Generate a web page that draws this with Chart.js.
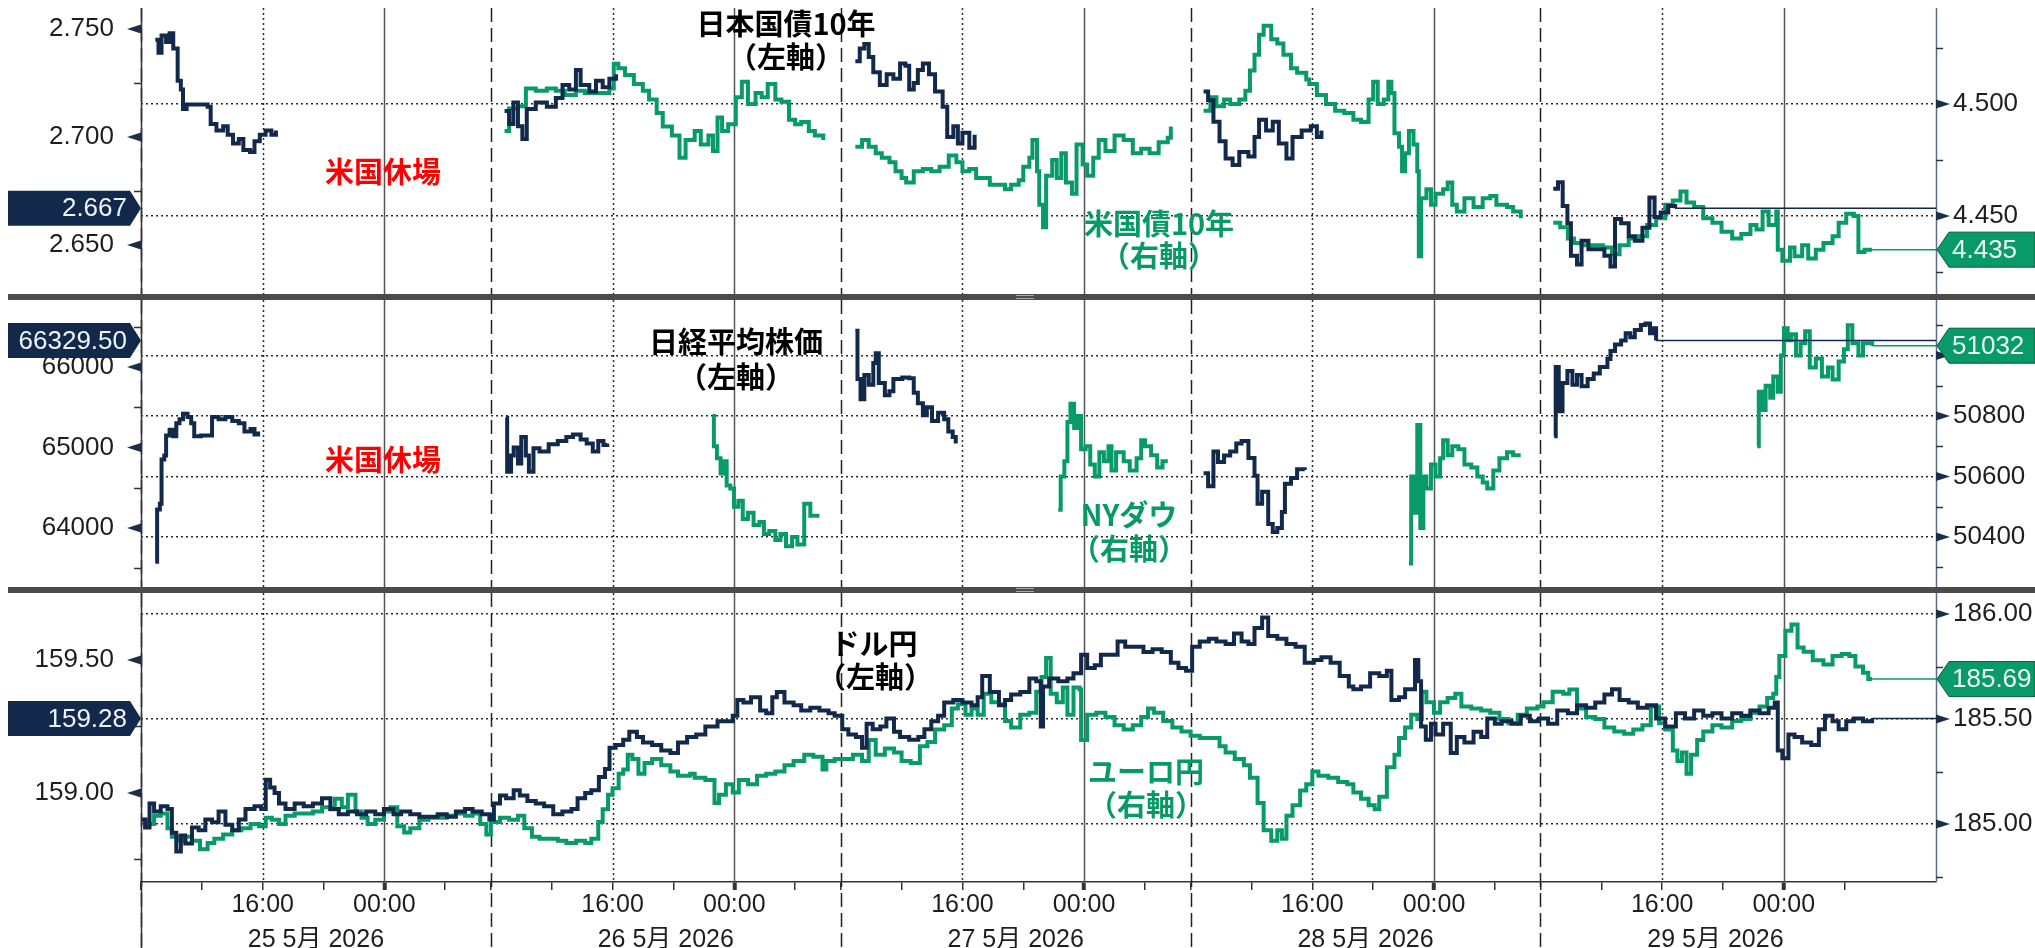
<!DOCTYPE html>
<html lang="ja">
<head>
<meta charset="utf-8">
<title>日本国債・日経平均・ドル円</title>
<script src="https://cdn.jsdelivr.net/npm/chart.js@4.4.1/dist/chart.umd.min.js"></script>
<style>
  html, body { margin: 0; padding: 0; background: #fff; }
  #wrap { position: relative; width: 2035px; height: 948px; overflow: hidden; background: #fff; }
  canvas { position: absolute; left: 0; }
  .sep { position: absolute; left: 8px; width: 2027px; height: 6px; background: #4b4b4b; z-index: 5; }
  .grip { position: absolute; left: 1016px; width: 18px; height: 2px; border-top: 1px solid #a8a8a8; border-bottom: 1px solid #a8a8a8; z-index: 6; }
  .note { position: absolute; transform: translate(-50%, -50%); font: bold 29px 'Noto Sans CJK JP', sans-serif; white-space: nowrap; line-height: 1; z-index: 4; }
</style>
</head>
<body>
<div id="wrap">
  <canvas id="c1" width="2035" height="296" style="top:0px"></canvas>
  <canvas id="c2" width="2035" height="293" style="top:296px"></canvas>
  <canvas id="c3" width="2035" height="359" style="top:589px"></canvas>

  <div class="sep" style="top:294px"></div><div class="grip" style="top:295px"></div>
  <div class="sep" style="top:587px"></div><div class="grip" style="top:588px"></div>

  <div class="note" style="left:786px;top:22px;color:#000">日本国債10年</div>
  <div class="note" style="left:786px;top:55px;color:#000">（左軸）</div>
  <div class="note" style="left:383px;top:170px;color:#ff0000">米国休場</div>
  <div class="note" style="left:1159px;top:222px;color:#079a65">米国債10年</div>
  <div class="note" style="left:1159px;top:254px;color:#079a65">（右軸）</div>

  <div class="note" style="left:736px;top:340px;color:#000">日経平均株価</div>
  <div class="note" style="left:736px;top:375px;color:#000">（左軸）</div>
  <div class="note" style="left:383px;top:458px;color:#ff0000">米国休場</div>
  <div class="note" style="left:1129px;top:513px;color:#079a65">NYダウ</div>
  <div class="note" style="left:1129px;top:547px;color:#079a65">（右軸）</div>

  <div class="note" style="left:874px;top:642px;color:#000">ドル円</div>
  <div class="note" style="left:875px;top:675px;color:#000">（左軸）</div>
  <div class="note" style="left:1146px;top:770px;color:#079a65">ユーロ円</div>
  <div class="note" style="left:1146px;top:803px;color:#079a65">（右軸）</div>
</div>

<script>
// 時間軸: 各日 08:00 を起点に 23 時間 (07:00-08:00 は詰めて表示)
const dayLabels = ['25 5月 2026', '26 5月 2026', '27 5月 2026', '28 5月 2026', '29 5月 2026'];
const dayStart = [0, 23, 46, 69, 92];
const hourLabels = { 8: '16:00', 16: '00:00' };

// 日本国債10年 [時間, 利回り]
const jgb10 = [
  [0.94,2.745],[1.15,2.739],[1.35,2.747],[1.65,2.744],[1.88,2.748],[2.12,2.741],[2.41,2.726],[2.62,2.722],[2.76,2.713],
  [3.0,2.715],[3.6,2.715],[4.38,2.714],[4.58,2.706],[4.96,2.703],[5.4,2.705],[5.7,2.701],[6.05,2.697],[6.43,2.699],
  [6.73,2.694],[7.17,2.693],[7.46,2.698],[7.81,2.701],[8.19,2.703],[8.57,2.701],[8.87,2.703],[9.0,null],
  [23.9,2.712],[24.2,2.706],[24.48,2.716],[24.78,2.705],[25.07,2.699],[25.36,2.713],[25.95,2.716],[26.68,2.714],
  [27.27,2.718],[27.71,2.724],[28.15,2.722],[28.59,2.731],[28.9,2.724],[29.47,2.721],[29.91,2.726],[30.35,2.723],
  [30.79,2.727],[31.23,2.729],[31.4,null],
  [46.96,2.735],[47.25,2.741],[47.55,2.743],[47.84,2.737],[48.14,2.730],[48.57,2.724],[49.02,2.729],[49.46,2.727],
  [49.9,2.734],[50.25,2.733],[50.5,2.722],[50.8,2.725],[51.07,2.731],[51.4,2.734],[51.8,2.729],[52.2,2.721],
  [52.7,2.714],[53.0,2.700],[53.4,2.705],[53.7,2.697],[54.0,2.702],[54.45,2.695],[54.8,2.701],[55.0,null],
  [69.85,2.721],[70.15,2.717],[70.5,2.707],[70.9,2.698],[71.3,2.690],[71.76,2.687],[72.2,2.693],[72.8,2.691],
  [73.2,2.700],[73.5,2.708],[73.96,2.703],[74.4,2.707],[74.8,2.697],[75.3,2.690],[75.7,2.700],[76.3,2.703],
  [76.9,2.705],[77.3,2.700],[77.6,2.703],[77.8,null],
  [92.84,2.676],[93.15,2.679],[93.46,2.668],[93.77,2.660],[94.0,2.645],[94.4,2.641],[94.7,2.652],[95.15,2.648],
  [95.77,2.648],[96.2,2.645],[96.6,2.640],[96.9,2.662],[97.3,2.660],[97.8,2.654],[98.2,2.652],[98.7,2.658],
  [99.16,2.672],[99.5,2.663],[99.9,2.665],[100.4,2.668],[100.85,2.667]
];

// 米国債10年 [時間, 利回り]
const ust10 = [
  [23.9,4.488],[24.2,4.498],[24.78,4.499],[25.3,4.507],[25.95,4.506],[26.68,4.507],[27.27,4.506],[27.86,4.504],
  [28.59,4.506],[29.18,4.505],[30.06,4.505],[30.79,4.507],[31.08,4.518],[31.38,4.516],[31.82,4.513],[32.4,4.509],
  [32.99,4.506],[33.4,4.502],[33.9,4.496],[34.3,4.490],[34.9,4.486],[35.4,4.476],[35.8,4.484],[36.4,4.488],
  [36.8,4.482],[37.3,4.486],[37.6,4.479],[37.9,4.494],[38.2,4.488],[38.6,4.491],[39.1,4.503],[39.5,4.510],
  [39.9,4.500],[40.4,4.505],[40.8,4.503],[41.2,4.509],[41.7,4.502],[42.1,4.501],[42.6,4.493],[43.0,4.491],
  [43.4,4.492],[43.9,4.488],[44.3,4.486],[44.85,4.484],[45.0,null],
  [46.96,4.481],[47.4,4.484],[47.84,4.481],[48.3,4.478],[48.7,4.476],[49.2,4.474],[49.6,4.470],[50.0,4.467],
  [50.3,4.465],[50.8,4.470],[51.4,4.471],[51.95,4.470],[52.5,4.472],[53.1,4.477],[53.6,4.474],[54.0,4.470],
  [54.45,4.471],[54.9,4.467],[55.3,4.467],[55.8,4.464],[56.4,4.464],[56.8,4.462],[57.2,4.464],[57.7,4.466],
  [58.0,4.472],[58.4,4.476],[58.6,4.484],[58.9,4.470],[59.05,4.455],[59.3,4.445],[59.5,4.468],[59.9,4.475],
  [60.2,4.467],[60.5,4.478],[60.8,4.465],[61.2,4.460],[61.5,4.482],[61.9,4.473],[62.2,4.468],[62.6,4.476],
  [62.96,4.484],[63.4,4.479],[64.0,4.486],[64.6,4.484],[65.2,4.478],[65.75,4.480],[66.3,4.478],[66.9,4.483],
  [67.5,4.485],[67.7,4.490],[68.0,null],
  [69.85,4.497],[70.3,4.503],[70.7,4.499],[71.2,4.502],[71.6,4.500],[72.2,4.502],[72.6,4.506],[72.9,4.515],
  [73.2,4.522],[73.5,4.531],[73.8,4.535],[74.3,4.529],[74.7,4.527],[75.1,4.522],[75.6,4.516],[76.0,4.514],
  [76.6,4.511],[76.8,4.509],[77.3,4.504],[77.9,4.500],[78.5,4.497],[79.1,4.496],[79.7,4.493],[80.2,4.492],
  [80.7,4.502],[81.0,4.510],[81.3,4.500],[81.7,4.502],[82.0,4.510],[82.2,4.505],[82.4,4.487],[82.7,4.481],
  [82.9,4.470],[83.1,4.478],[83.35,4.488],[83.65,4.482],[83.9,4.470],[84.0,4.432],[84.15,4.458],[84.5,4.462],
  [84.8,4.455],[85.1,4.460],[85.6,4.462],[85.9,4.465],[86.2,4.455],[86.5,4.452],[87.0,4.458],[87.6,4.454],
  [88.2,4.458],[88.7,4.459],[89.1,4.455],[89.8,4.454],[90.2,4.452],[90.7,4.449],[91.0,null],
  [92.84,4.447],[93.3,4.445],[93.8,4.440],[94.2,4.438],[94.7,4.437],[95.3,4.437],[96.1,4.436],[96.7,4.433],
  [97.2,4.437],[97.8,4.440],[98.4,4.441],[99.0,4.446],[99.6,4.449],[100.2,4.455],[100.7,4.457],[101.2,4.461],
  [101.6,4.456],[102.1,4.454],[102.7,4.449],[103.3,4.447],[103.9,4.443],[104.6,4.440],[105.2,4.442],[105.8,4.446],
  [106.2,4.444],[106.6,4.452],[107.0,4.446],[107.5,4.452],[107.6,4.435],[107.9,4.430],[108.4,4.436],[108.7,4.432],
  [109.2,4.437],[109.6,4.431],[110.1,4.435],[110.6,4.438],[111.2,4.441],[111.6,4.447],[112.1,4.451],[112.6,4.450],
  [112.9,4.434],[113.3,4.435],[113.8,4.435]
];

// 日経平均株価 [時間, 円]
const nikkei = [
  [0.94,63580],[1.06,64230],[1.24,64300],[1.35,64850],[1.53,64900],[1.65,65150],[1.88,65220],[2.12,65140],
  [2.32,65300],[2.53,65350],[2.76,65420],[3.06,65380],[3.3,65300],[3.5,65140],[3.94,65150],[4.47,65150],
  [4.67,65380],[5.1,65350],[5.55,65380],[6.0,65330],[6.43,65300],[6.8,65200],[7.2,65230],[7.46,65160],
  [7.7,65200],[7.9,null],
  [23.98,65370],[24.07,64700],[24.33,64900],[24.5,65000],[24.78,64800],[25.0,65130],[25.3,64900],[25.5,64700],
  [25.8,64990],[26.2,64950],[26.8,65040],[27.4,65080],[27.96,65130],[28.4,65160],[28.9,65100],[29.3,65050],
  [29.7,64950],[30.06,65080],[30.4,65030],[30.65,65050],[30.8,null],
  [46.96,66450],[47.1,65850],[47.3,65600],[47.55,65900],[47.84,65780],[48.14,66050],[48.3,66170],[48.5,65800],
  [48.9,65650],[49.2,65700],[49.46,65850],[50.05,65870],[50.5,65860],[50.8,65680],[51.07,65550],[51.4,65400],
  [51.66,65500],[52.0,65330],[52.4,65430],[52.8,65350],[53.07,65200],[53.36,65130],[53.56,65050],[53.7,null],
  [69.85,64680],[70.15,64520],[70.5,64950],[70.8,64820],[71.2,64900],[71.6,64950],[72.0,65050],[72.35,65080],
  [72.8,64870],[73.2,64650],[73.4,64300],[73.7,64450],[74.1,64050],[74.4,63950],[74.7,64000],[75.0,64200],
  [75.2,64550],[75.6,64620],[76.0,64730],[76.5,64720],[76.7,null],
  [92.9,65140],[93.0,66000],[93.2,65450],[93.45,65800],[93.77,65950],[94.1,65780],[94.4,65900],[94.7,65760],
  [95.1,65850],[95.5,65920],[95.9,66000],[96.4,66100],[96.6,66200],[96.9,66280],[97.3,66330],[97.6,66420],
  [97.9,66370],[98.2,66460],[98.6,66520],[98.9,66540],[99.2,66420],[99.4,66480],[99.6,66329.5]
];

// NYダウ [時間, ドル]
const nyDow = [
  [37.57,50800],[37.66,50700],[37.86,50660],[38.1,50610],[38.3,50650],[38.5,50570],[38.74,50560],[38.98,50500],
  [39.27,50520],[39.56,50460],[39.9,50480],[40.27,50440],[40.65,50450],[40.95,50410],[41.3,50420],[41.7,50390],
  [42.03,50410],[42.4,50370],[42.8,50400],[43.15,50375],[43.6,50510],[44.0,50470],[44.6,50470],[44.8,null],
  [60.3,50490],[60.46,50600],[60.7,50650],[60.9,50780],[61.1,50840],[61.34,50760],[61.6,50800],[61.8,50690],
  [62.1,50700],[62.4,50640],[62.7,50600],[63.0,50680],[63.3,50650],[63.6,50700],[63.8,50620],[64.1,50680],
  [64.6,50650],[65.0,50620],[65.45,50660],[65.75,50720],[66.0,50700],[66.4,50670],[66.8,50630],[67.15,50650],
  [67.5,50650],[67.7,null],
  [83.35,50313],[83.5,50600],[83.7,50480],[83.9,50770],[84.1,50430],[84.3,50600],[84.5,50560],[84.8,50640],
  [85.1,50600],[85.4,50660],[85.6,50720],[85.9,50670],[86.2,50700],[86.6,50690],[87.0,50640],[87.45,50630],
  [87.85,50600],[88.2,50580],[88.5,50560],[88.9,50620],[89.3,50660],[89.8,50680],[90.2,50670],[90.7,50670],[90.9,null],
  [106.25,50700],[106.35,50880],[106.56,50820],[106.8,50900],[107.1,50860],[107.3,50930],[107.6,50880],[107.8,51000],
  [108.0,51090],[108.25,51050],[108.5,51070],[108.8,51000],[109.1,51040],[109.4,51080],[109.7,50960],[110.1,50990],
  [110.5,50930],[110.9,50960],[111.2,50920],[111.6,50980],[111.95,51020],[112.2,51100],[112.5,51040],[112.9,51000],
  [113.2,51040],[113.8,51032]
];

// ドル円 [時間, 円]
const usdJpy = [
  [0.06,158.90],[0.27,158.87],[0.56,158.96],[0.86,158.93],[1.3,158.95],[1.74,158.94],[2.03,158.85],[2.32,158.78],
  [2.62,158.84],[2.91,158.81],[3.35,158.87],[3.79,158.86],[4.23,158.90],[4.67,158.89],[5.1,158.93],[5.55,158.88],
  [6.0,158.86],[6.43,158.90],[6.87,158.94],[7.46,158.95],[7.9,158.94],[8.2,159.05],[8.49,159.02],[8.78,159.00],
  [9.07,158.96],[9.5,158.94],[10.1,158.96],[10.7,158.95],[11.3,158.96],[11.9,158.98],[12.45,158.94],[13.0,158.92],
  [13.6,158.93],[14.2,158.92],[14.8,158.93],[15.4,158.92],[15.97,158.94],[16.6,158.92],[17.1,158.93],[17.7,158.92],
  [18.3,158.91],[18.9,158.91],[19.5,158.92],[20.1,158.91],[20.7,158.93],[21.3,158.94],[21.8,158.93],[22.4,158.92],
  [22.9,158.90],[23.2,158.96],[23.6,158.99],[24.0,158.98],[24.5,159.01],[24.9,158.99],[25.4,158.97],[25.95,158.96],
  [26.5,158.95],[27.1,158.92],[27.7,158.93],[28.3,158.94],[28.7,158.98],[29.2,159.00],[29.6,159.01],[30.1,159.06],
  [30.5,159.09],[30.8,159.17],[31.2,159.18],[31.7,159.20],[32.1,159.23],[32.6,159.21],[33.0,159.19],[33.6,159.18],
  [34.2,159.16],[34.8,159.15],[35.3,159.19],[35.9,159.21],[36.5,159.22],[37.1,159.25],[37.9,159.27],[38.45,159.27],
  [38.9,159.29],[39.2,159.35],[39.6,159.34],[40.1,159.36],[40.7,159.31],[41.1,159.30],[41.5,159.36],[41.8,159.38],
  [42.3,159.34],[42.9,159.33],[43.4,159.31],[44.0,159.32],[44.6,159.31],[45.2,159.30],[45.6,159.29],[46.1,159.24],
  [46.5,159.22],[47.0,159.21],[47.4,159.17],[47.7,159.26],[48.1,159.24],[48.6,159.25],[49.0,159.28],[49.5,159.23],
  [49.9,159.21],[50.5,159.20],[51.1,159.21],[51.5,159.24],[51.95,159.27],[52.4,159.29],[52.8,159.34],[53.4,159.35],
  [54.0,159.34],[54.6,159.33],[55.0,159.36],[55.3,159.44],[55.8,159.38],[56.4,159.33],[56.8,159.35],[57.2,159.37],
  [57.8,159.38],[58.4,159.43],[58.85,159.42],[59.15,159.25],[59.3,159.40],[59.7,159.43],[60.3,159.42],[60.9,159.43],
  [61.3,159.45],[61.8,159.52],[62.2,159.47],[62.7,159.48],[63.1,159.52],[63.7,159.52],[64.2,159.57],[64.7,159.55],
  [65.3,159.55],[65.9,159.53],[66.5,159.54],[67.1,159.53],[67.7,159.49],[68.2,159.47],[68.7,159.46],[69.1,159.55],
  [69.6,159.57],[70.2,159.58],[70.7,159.57],[71.3,159.56],[71.85,159.60],[72.35,159.57],[72.8,159.56],[73.2,159.62],
  [73.7,159.66],[74.1,159.59],[74.7,159.58],[75.3,159.56],[75.9,159.55],[76.5,159.49],[77.1,159.50],[77.6,159.51],
  [78.2,159.49],[78.8,159.44],[79.4,159.40],[79.7,159.39],[80.2,159.40],[80.8,159.45],[81.4,159.44],[81.9,159.46],
  [82.2,159.35],[82.7,159.36],[83.1,159.39],[83.75,159.50],[83.97,159.42],[84.15,159.25],[84.46,159.20],[84.8,159.26],
  [85.1,159.22],[85.6,159.26],[86.1,159.15],[86.5,159.21],[87.0,159.19],[87.6,159.23],[88.1,159.21],[88.5,159.28],
  [89.0,159.26],[89.45,159.27],[90.1,159.26],[90.7,159.29],[91.3,159.27],[91.9,159.28],[92.5,159.26],[93.1,159.31],
  [93.8,159.30],[94.4,159.33],[95.0,159.32],[95.6,159.34],[96.2,159.37],[96.7,159.39],[97.2,159.35],[97.8,159.34],
  [98.4,159.32],[99.0,159.33],[99.6,159.28],[100.2,159.25],[100.9,159.30],[101.5,159.28],[102.1,159.31],[102.7,159.29],
  [103.3,159.30],[103.9,159.28],[104.6,159.30],[105.2,159.29],[105.8,159.31],[106.4,159.30],[107.0,159.32],[107.4,159.34],
  [107.6,159.16],[107.9,159.13],[108.3,159.22],[108.7,159.21],[109.2,159.19],[109.8,159.18],[110.3,159.24],[110.7,159.29],
  [111.2,159.27],[111.6,159.24],[112.1,159.27],[112.6,159.28],[113.2,159.27],[113.8,159.28]
];

// ユーロ円 [時間, 円]
const eurJpy = [
  [0.06,185.02],[0.4,185.00],[0.86,185.04],[1.3,185.05],[1.74,184.98],[2.03,184.94],[2.47,184.92],[2.91,184.94],
  [3.35,184.92],[3.88,184.88],[4.38,184.91],[4.82,184.93],[5.4,184.95],[6.0,184.97],[6.6,184.98],[7.2,185.00],
  [7.75,184.99],[8.2,185.03],[8.6,185.02],[9.07,185.00],[9.5,185.04],[10.1,185.05],[10.7,185.05],[11.3,185.06],
  [11.9,185.08],[12.45,185.07],[12.74,185.12],[13.2,185.08],[13.6,185.14],[14.1,185.06],[14.5,185.03],[14.9,185.00],
  [15.4,185.02],[15.97,185.06],[16.4,185.08],[16.85,184.99],[17.3,184.96],[17.7,184.98],[18.3,185.02],[18.9,185.03],
  [19.5,185.03],[20.1,185.04],[20.7,185.05],[21.3,185.04],[21.8,185.05],[22.3,185.00],[22.7,184.95],[23.0,185.01],
  [23.6,185.03],[24.2,185.02],[24.78,185.04],[25.2,184.98],[25.7,184.94],[26.2,184.93],[26.8,184.93],[27.4,184.92],
  [27.96,184.91],[28.6,184.92],[29.2,184.91],[29.6,184.93],[30.06,185.01],[30.35,185.07],[30.7,185.14],[31.0,185.17],
  [31.4,185.24],[31.7,185.26],[32.0,185.33],[32.3,185.31],[32.7,185.24],[33.1,185.29],[33.6,185.31],[34.2,185.28],
  [34.8,185.25],[35.3,185.23],[36.1,185.24],[36.4,185.22],[37.1,185.21],[37.7,185.10],[38.0,185.14],[38.45,185.19],
  [38.9,185.15],[39.3,185.21],[39.9,185.19],[40.5,185.23],[41.1,185.24],[41.7,185.25],[42.3,185.28],[42.9,185.30],
  [43.6,185.33],[44.2,185.32],[44.8,185.26],[45.05,185.30],[45.6,185.31],[46.2,185.31],[46.8,185.33],[47.4,185.30],
  [47.84,185.40],[48.3,185.33],[48.9,185.36],[49.5,185.34],[50.0,185.30],[50.6,185.29],[51.2,185.37],[51.7,185.39],
  [52.2,185.45],[52.8,185.47],[53.3,185.55],[53.7,185.57],[54.2,185.52],[54.6,185.55],[55.0,185.52],[55.4,185.62],
  [55.9,185.58],[56.4,185.57],[56.8,185.49],[57.2,185.46],[57.8,185.52],[58.4,185.53],[58.85,185.63],[59.2,185.70],
  [59.5,185.79],[59.8,185.62],[60.2,185.58],[60.6,185.65],[60.9,185.52],[61.3,185.65],[61.7,185.64],[61.8,185.40],
  [62.2,185.52],[62.8,185.53],[63.4,185.51],[64.0,185.47],[64.6,185.45],[65.2,185.47],[65.75,185.51],[66.2,185.55],
  [66.6,185.53],[67.2,185.49],[67.8,185.46],[68.4,185.44],[69.0,185.42],[69.6,185.41],[70.3,185.41],[70.9,185.37],
  [71.3,185.34],[71.9,185.31],[72.5,185.28],[72.9,185.22],[73.4,185.10],[73.8,184.97],[74.3,184.92],[74.7,184.97],
  [75.0,184.93],[75.3,185.04],[75.7,185.09],[76.2,185.16],[76.6,185.19],[77.0,185.25],[77.4,185.23],[78.05,185.22],
  [78.7,185.20],[79.3,185.19],[79.7,185.15],[80.2,185.12],[80.7,185.09],[81.1,185.07],[81.4,185.13],[81.9,185.27],
  [82.4,185.33],[82.7,185.41],[83.1,185.46],[83.5,185.52],[83.9,185.50],[84.2,185.63],[84.5,185.58],[85.0,185.53],
  [85.4,185.58],[85.9,185.60],[86.4,185.62],[86.8,185.56],[87.45,185.55],[88.1,185.54],[88.7,185.53],[89.3,185.50],
  [89.9,185.48],[90.5,185.52],[91.1,185.55],[91.8,185.56],[92.2,185.58],[92.8,185.63],[93.5,185.62],[93.9,185.64],
  [94.4,185.55],[95.0,185.51],[95.6,185.50],[96.2,185.46],[96.85,185.44],[97.5,185.43],[98.1,185.45],[98.7,185.47],
  [99.25,185.56],[99.8,185.48],[100.2,185.45],[100.7,185.35],[101.0,185.30],[101.3,185.34],[101.6,185.24],[101.9,185.33],
  [102.3,185.40],[102.7,185.44],[103.3,185.47],[103.9,185.46],[104.6,185.49],[105.2,185.50],[105.8,185.53],[106.4,185.56],
  [106.9,185.60],[107.3,185.62],[107.5,185.70],[107.7,185.80],[108.1,185.92],[108.5,185.95],[108.9,185.84],[109.3,185.82],
  [109.9,185.78],[110.6,185.76],[111.2,185.80],[111.8,185.81],[112.3,185.80],[112.7,185.75],[113.2,185.72],[113.55,185.69],
  [113.8,185.69]
];

// 目盛り
const jgbTicks = [2.65, 2.70, 2.75], jgbMinor = [2.675, 2.725];
const ustTicks = [4.45, 4.50], ustMinor = [4.425, 4.475, 4.525];
const nikkeiTicks = [64000, 65000, 66000], nikkeiMinor = [63500, 64500, 65500, 66500];
const dowTicks = [50400, 50600, 50800, 51000], dowMinor = [50300, 50500, 50700, 50900, 51100];
const usdTicks = [159.00, 159.50], usdMinor = [158.75, 159.25];
const eurTicks = [185.00, 185.50, 186.00], eurMinor = [184.75, 185.25, 185.75];

const FONT = "'Liberation Sans', Arial, sans-serif";
const NAVY = '#13294b';
const GREEN = '#089b69';

function toPoints(arr) {
  return arr.map(p => ({ x: p[0], y: p[1] }));
}
function lastPoint(arr) {
  for (let i = arr.length - 1; i >= 0; i--) if (arr[i][1] != null) return arr[i];
}
function line(ctx, x1, y1, x2, y2, color, dash, w) {
  ctx.beginPath();
  ctx.strokeStyle = color;
  ctx.lineWidth = w || 1.5;
  ctx.setLineDash(dash);
  ctx.moveTo(x1, y1);
  ctx.lineTo(x2, y2);
  ctx.stroke();
}
// 軸ラベルがチャート領域を縮めないようにする
function noPad(sc) {
  sc.paddingTop = 0; sc.paddingBottom = 0; sc.paddingLeft = 0; sc.paddingRight = 0;
}

// 縦のグリッド、軸の目印、最新値ラベル
function makeDeco(p) {
  return {
    id: 'deco',
    beforeDatasetsDraw(chart) {
      const { ctx, chartArea: a, scales: { x } } = chart;
      const yEnd = p.xAxis ? chart.height : a.bottom;
      ctx.save();
      dayStart.forEach(d => {
        let px = Math.round(x.getPixelForValue(d + 8)) + 0.5;
        line(ctx, px, a.top, px, a.bottom, '#2a2a2a', [2, 3]);
        px = Math.round(x.getPixelForValue(d + 16)) + 0.5;
        line(ctx, px, a.top, px, a.bottom, '#555', []);
        px = Math.round(x.getPixelForValue(d)) + 0.5;
        line(ctx, px, a.top, px, yEnd, '#222', [14, 6]);
      });
      ctx.restore();
    },
    afterDraw(chart) {
      const { ctx, chartArea: a, scales: { x, y, y2 } } = chart;
      const yEnd = p.xAxis ? chart.height : a.bottom;
      ctx.save();
      line(ctx, a.left + 0.5, a.top, a.left + 0.5, yEnd, '#333', [], 1.5);
      line(ctx, a.right + 0.5, a.top, a.right + 0.5, a.bottom, '#5d6c80', [], 1.5);

      ctx.fillStyle = '#1d2d48';
      p.left.ticks.forEach(v => {
        const py = y.getPixelForValue(v);
        ctx.beginPath();
        ctx.moveTo(a.left, py - 4.5); ctx.lineTo(a.left, py + 4.5); ctx.lineTo(a.left - 14, py);
        ctx.closePath(); ctx.fill();
      });
      p.right.ticks.forEach(v => {
        const py = y2.getPixelForValue(v);
        ctx.beginPath();
        ctx.moveTo(a.right, py - 4.5); ctx.lineTo(a.right, py + 4.5); ctx.lineTo(a.right + 14, py);
        ctx.closePath(); ctx.fill();
      });
      p.left.minor.forEach(v => {
        const py = Math.round(y.getPixelForValue(v)) + 0.5;
        line(ctx, a.left - 7, py, a.left, py, '#333', [], 1.5);
      });
      p.right.minor.forEach(v => {
        const py = Math.round(y2.getPixelForValue(v)) + 0.5;
        line(ctx, a.right, py, a.right + 7, py, '#333', [], 1.5);
      });

      // 最新値の水平線
      const lp = lastPoint(p.left.data), rp = lastPoint(p.right.data);
      const ly = y.getPixelForValue(lp[1]), ry = y2.getPixelForValue(rp[1]);
      line(ctx, x.getPixelForValue(lp[0]), ly, a.right, ly, NAVY, [], 1.5);
      line(ctx, x.getPixelForValue(rp[0]), ry, a.right, ry, GREEN, [], 1.5);

      // 左ラベル
      ctx.setLineDash([]);
      ctx.beginPath();
      ctx.moveTo(8, ly - 17.5); ctx.lineTo(130, ly - 17.5); ctx.lineTo(a.left, ly);
      ctx.lineTo(130, ly + 17.5); ctx.lineTo(8, ly + 17.5); ctx.closePath();
      ctx.fillStyle = NAVY; ctx.fill();
      ctx.fillStyle = '#eef2f7';
      ctx.font = '26px ' + FONT;
      ctx.textAlign = 'right'; ctx.textBaseline = 'middle';
      ctx.fillText(lp[1].toFixed(p.left.boxDigits), 127, ly + 1);

      // 右ラベル
      ctx.beginPath();
      ctx.moveTo(a.right + 1, ry); ctx.lineTo(a.right + 13, ry - 17.5); ctx.lineTo(chart.width, ry - 17.5);
      ctx.lineTo(chart.width, ry + 17.5); ctx.lineTo(a.right + 13, ry + 17.5); ctx.closePath();
      ctx.fillStyle = GREEN; ctx.fill();
      ctx.strokeStyle = '#06583c'; ctx.lineWidth = 1; ctx.stroke();
      ctx.fillStyle = '#eef7f2';
      ctx.textAlign = 'left';
      ctx.fillText(rp[1].toFixed(p.right.boxDigits), a.right + 16, ry + 1);
      ctx.restore();
    }
  };
}

function yScale(side, s) {
  return {
    type: 'linear', position: side, min: s.min, max: s.max,
    afterFit: sc => { sc.width = side === 'left' ? 141 : 99; noPad(sc); },
    afterBuildTicks: sc => { sc.ticks = s.ticks.map(v => ({ value: v })); },
    ticks: {
      padding: side === 'left' ? 19 : 17,
      font: { family: FONT, size: 26 }, color: '#1e1e1e',
      callback: v => v.toFixed(s.digits)
    },
    grid: side === 'left'
      ? { display: false }
      : { display: true, drawOnChartArea: true, drawTicks: false, color: '#2b2b2b', lineWidth: 1.5 },
    border: { display: false, dash: [2, 3] }
  };
}

function makePanel(p) {
  const scales = {
    x: {
      type: 'linear', position: 'bottom', min: 0, max: 118, display: p.xAxis,
      afterBuildTicks: sc => {
        const t = [];
        dayStart.forEach(d => { for (let o = 0; o < 23; o += 4) t.push({ value: d + o }); });
        sc.ticks = t;
      },
      afterFit: sc => { sc.height = p.xAxis ? 34 : 0; noPad(sc); },
      ticks: {
        autoSkip: false, maxRotation: 0, minRotation: 0, padding: 0,
        font: { family: FONT, size: 25 }, color: '#1e1e1e',
        callback: v => hourLabels[v % 23] || ''
      },
      grid: {
        drawOnChartArea: false, drawTicks: true, tickLength: 8, color: '#333', lineWidth: 1.5,
        tickWidth: c => (c.tick && c.tick.value % 23 === 16) ? 4 : 1.5
      },
      border: { display: true, color: '#333', width: 1.5 }
    },
    x2: {
      type: 'linear', position: 'bottom', min: 0, max: 118, display: p.xAxis,
      afterBuildTicks: sc => { sc.ticks = dayStart.map(d => ({ value: d + 11.5 })); },
      afterFit: sc => { sc.height = p.xAxis ? 32 : 0; noPad(sc); },
      ticks: {
        autoSkip: false, maxRotation: 0, minRotation: 0, padding: 1,
        font: { family: "'Liberation Sans', 'Noto Sans CJK JP', sans-serif", size: 25 }, color: '#1e1e1e',
        callback: (v, i) => dayLabels[i]
      },
      grid: { display: false },
      border: { display: false }
    },
    y: yScale('left', p.left),
    y2: yScale('right', p.right)
  };

  return new Chart(document.getElementById(p.id), {
    type: 'line',
    data: {
      datasets: [
        { label: p.left.name, data: toPoints(p.left.data), yAxisID: 'y', borderColor: NAVY },
        { label: p.right.name, data: toPoints(p.right.data), yAxisID: 'y2', borderColor: GREEN }
      ]
    },
    options: {
      responsive: false, animation: false, devicePixelRatio: 1,
      layout: { padding: { top: p.padTop, bottom: p.padBottom, left: 0, right: 0 } },
      elements: {
        point: { radius: 0 },
        line: { borderWidth: 4, stepped: true, tension: 0, borderJoinStyle: 'miter', borderCapStyle: 'butt' }
      },
      plugins: { legend: { display: false }, tooltip: { enabled: false } },
      scales
    },
    plugins: [makeDeco(p)]
  });
}

makePanel({
  id: 'c1', padTop: 8, padBottom: 2, xAxis: false,
  left: { name: '日本国債10年', data: jgb10, min: 2.6273, max: 2.7597, ticks: jgbTicks, minor: jgbMinor, digits: 3, boxDigits: 3 },
  right: { name: '米国債10年', data: ust10, min: 4.4152, max: 4.5429, ticks: ustTicks, minor: ustMinor, digits: 3, boxDigits: 3 }
});
makePanel({
  id: 'c2', padTop: 4, padBottom: 2, xAxis: false,
  left: { name: '日経平均株価', data: nikkei, min: 63267, max: 66832, ticks: nikkeiTicks, minor: nikkeiMinor, digits: 0, boxDigits: 2 },
  right: { name: 'NYダウ', data: nyDow, min: 50235, max: 51183, ticks: dowTicks, minor: dowMinor, digits: 0, boxDigits: 0 }
});
makePanel({
  id: 'c3', padTop: 4, padBottom: 0, xAxis: true,
  left: { name: 'ドル円', data: usdJpy, min: 158.665, max: 159.752, ticks: usdTicks, minor: usdMinor, digits: 2, boxDigits: 2 },
  right: { name: 'ユーロ円', data: eurJpy, min: 184.724, max: 186.1, ticks: eurTicks, minor: eurMinor, digits: 2, boxDigits: 2 }
});
</script>
</body>
</html>
